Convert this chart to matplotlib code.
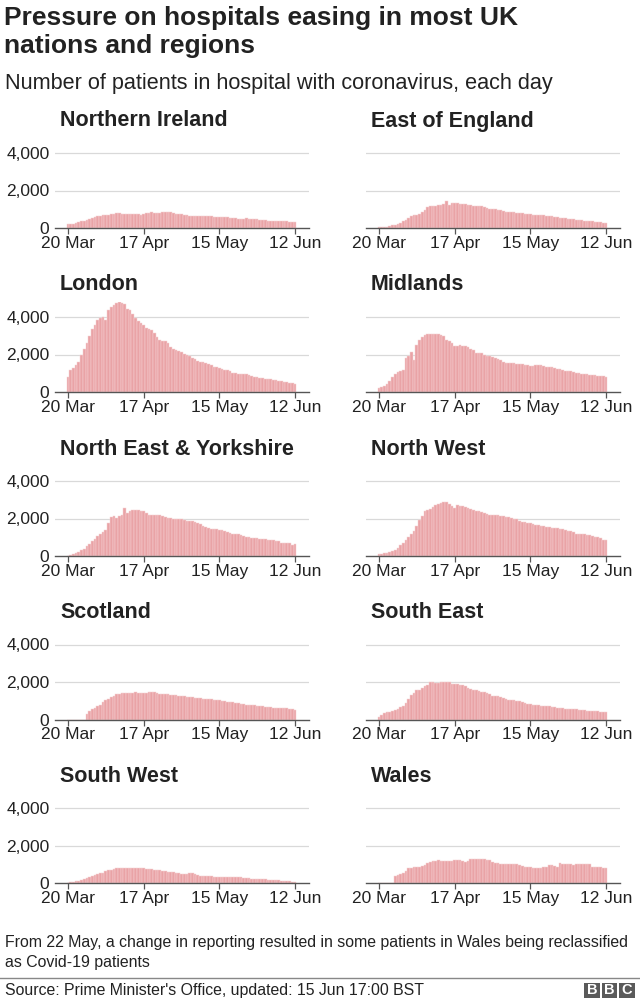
import matplotlib
matplotlib.use("Agg")
import matplotlib.pyplot as plt
import pandas as pd
import numpy as np
from matplotlib.patches import Rectangle

plt.rcParams['font.family'] = ['Liberation Sans', 'DejaVu Sans']

dates = pd.date_range("2020-03-20", "2020-06-12", freq="D")
tick_dates = pd.to_datetime(["2020-03-20", "2020-04-17", "2020-05-15", "2020-06-12"])
tick_labels = ["20 Mar", "17 Apr", "15 May", "12 Jun"]
y_ticks = [0, 2000, 4000]
y_labels = ["0", "2,000", "4,000"]

regions = ["Northern Ireland", "East of England", "London", "Midlands",
           "North East & Yorkshire", "North West", "Scotland", "South East",
           "South West", "Wales"]

northern_ireland = [200, 220, 240, 260, 300, 350, 400,
                    450, 500, 550, 580, 620, 650, 680,
                    700, 720, 740, 760, 780, 790, 760,
                    750, 750, 740, 740, 730, 740, 720,
                    760, 800, 820, 830, 820, 800, 810,
                    850, 870, 880, 860, 820, 750, 740,
                    740, 720, 680, 660, 640, 620, 620,
                    640, 660, 650, 630, 620, 600, 580,
                    580, 600, 590, 580, 560, 540, 520,
                    500, 480, 500, 520, 500, 480, 470,
                    460, 450, 440, 420, 400, 400, 390,
                    380, 380, 370, 360, 350, 340, 320, 300]

east_of_england = [30, 40, 60, 80, 110, 150, 180,
                   220, 280, 350, 430, 520, 650, 700,
                   720, 760, 850, 980, 1100, 1200, 1180,
                   1200, 1250, 1220, 1280, 1420, 1250, 1350,
                   1330, 1310, 1290, 1300, 1280, 1250, 1230,
                   1200, 1200, 1180, 1150, 1100, 1050, 1040,
                   1030, 1000, 980, 950, 900, 880, 860,
                   870, 850, 820, 800, 780, 760, 740,
                   740, 720, 700, 700, 680, 680, 660,
                   640, 620, 600, 580, 560, 540, 520,
                   500, 480, 460, 450, 440, 420, 400,
                   380, 370, 360, 340, 320, 300, 290, 270]

london = [800, 1190, 1300, 1450, 1600, 2000, 2300,
          2600, 3000, 3350, 3600, 3850, 3950, 4000,
          3850, 4350, 4550, 4650, 4750, 4780, 4750,
          4720, 4450, 4350, 4150, 3950, 3800, 3700,
          3550, 3400, 3350, 3300, 3150, 2950, 2780,
          2720, 2700, 2600, 2400, 2300, 2250, 2200,
          2150, 2050, 1950, 1900, 1800, 1750, 1650,
          1600, 1580, 1550, 1480, 1420, 1350, 1320,
          1280, 1250, 1200, 1180, 1100, 1020, 1000,
          980, 960, 960, 950, 920, 860, 820,
          780, 750, 730, 710, 690, 680, 650,
          620, 580, 570, 550, 530, 500, 470, 440]

midlands = [200, 280, 340, 450, 600, 820, 950,
            1050, 1120, 1200, 1800, 1900, 2150, 1700,
            2500, 2780, 2950, 3050, 3100, 3100, 3080,
            3100, 3100, 3050, 3000, 2800, 2700, 2600,
            2480, 2480, 2490, 2480, 2450, 2400, 2300,
            2250, 2070, 2100, 2080, 1950, 1930, 1900,
            1860, 1820, 1780, 1720, 1600, 1570, 1560,
            1550, 1540, 1520, 1500, 1470, 1440, 1420,
            1400, 1390, 1420, 1450, 1420, 1400, 1360,
            1340, 1320, 1290, 1250, 1220, 1180, 1140,
            1120, 1100, 1080, 1040, 1000, 980, 960,
            940, 920, 910, 890, 870, 850, 830, 820]

north_east_yorkshire = [20, 50, 100, 150, 230, 300, 400,
                        520, 650, 780, 900, 1050, 1200, 1300,
                        1380, 1750, 2100, 2150, 2050, 2150, 2200,
                        2550, 2300, 2400, 2440, 2450, 2440, 2420,
                        2380, 2300, 2200, 2210, 2200, 2180, 2200,
                        2150, 2080, 2050, 2020, 2000, 1990, 2000,
                        1950, 1900, 1880, 1870, 1850, 1800, 1780,
                        1700, 1620, 1560, 1500, 1450, 1460, 1430,
                        1400, 1380, 1350, 1300, 1240, 1200, 1180,
                        1170, 1120, 1060, 1020, 990, 980, 960,
                        940, 920, 900, 885, 870, 860, 850,
                        820, 780, 720, 700, 690, 670, 600, 620]

north_west = [90, 110, 150, 180, 210, 260, 330,
              450, 570, 720, 860, 1000, 1150, 1350,
              1600, 1900, 2150, 2380, 2480, 2520, 2600,
              2720, 2780, 2850, 2900, 2880, 2800, 2650,
              2550, 2700, 2680, 2660, 2620, 2580, 2520,
              2470, 2420, 2400, 2350, 2300, 2250, 2200,
              2180, 2190, 2180, 2150, 2120, 2090, 2060,
              2040, 2000, 1950, 1880, 1840, 1800, 1770,
              1740, 1700, 1680, 1650, 1620, 1580, 1550,
              1540, 1520, 1500, 1470, 1450, 1420, 1400,
              1360, 1320, 1260, 1200, 1180, 1160, 1150,
              1140, 1120, 1080, 1040, 1000, 960, 880, 840]

scotland = [0, 0, 0, 0, 0, 0, 0,
            320, 450, 550, 620, 700, 800, 950,
            1050, 1120, 1200, 1280, 1340, 1380, 1400,
            1410, 1420, 1430, 1440, 1450, 1440, 1430,
            1420, 1430, 1460, 1480, 1450, 1400, 1380,
            1360, 1350, 1340, 1330, 1320, 1300, 1280,
            1260, 1240, 1220, 1200, 1190, 1170, 1150,
            1130, 1120, 1100, 1090, 1080, 1060, 1050,
            1030, 1000, 970, 950, 930, 910, 890,
            870, 850, 820, 800, 790, 780, 760,
            740, 720, 700, 690, 670, 650, 640,
            620, 610, 600, 590, 590, 580, 560, 520]

south_east = [110, 250, 330, 380, 420, 460, 520,
              580, 650, 720, 900, 1100, 1300, 1400,
              1550, 1570, 1700, 1780, 1820, 2020, 1990,
              1950, 1940, 1990, 2020, 2010, 1980, 1900,
              1880, 1870, 1860, 1840, 1780, 1700, 1650,
              1600, 1550, 1500, 1470, 1450, 1400, 1350,
              1260, 1250, 1240, 1220, 1150, 1110, 1060,
              1040, 1020, 1000, 980, 950, 900, 840,
              820, 800, 780, 760, 740, 730, 720,
              710, 690, 650, 630, 600, 590, 570,
              550, 545, 540, 535, 530, 520, 500,
              470, 460, 450, 440, 430, 410, 390, 375]

south_west = [20, 40, 60, 90, 120, 160, 200,
              250, 300, 360, 420, 470, 520, 560,
              620, 680, 720, 760, 780, 790, 780,
              790, 790, 800, 800, 810, 810, 800,
              790, 770, 750, 740, 720, 700, 680,
              640, 620, 600, 580, 570, 560, 540,
              500, 480, 460, 520, 510, 490, 440,
              400, 390, 380, 370, 350, 345, 340,
              340, 345, 340, 330, 330, 320, 320,
              310, 300, 290, 270, 250, 230, 210,
              205, 200, 200, 195, 180, 170, 165,
              160, 150, 130, 120, 100, 90, 70, 55]

wales = [0, 0, 0, 0, 0, 0, 360,
         420, 500, 560, 620, 780, 820, 850,
         860, 880, 900, 980, 1050, 1120, 1170,
         1200, 1210, 1200, 1180, 1170, 1190, 1200,
         1210, 1220, 1210, 1180, 1130, 1150, 1280,
         1290, 1300, 1290, 1280, 1260, 1230, 1210,
         1100, 1080, 1060, 1020, 1010, 1010, 1020,
         1030, 1030, 1000, 960, 930, 880, 860,
         840, 820, 820, 810, 810, 830, 850,
         950, 970, 920, 860, 1060, 1020, 1000,
         1010, 990, 980, 1000, 1030, 1040, 1000,
         1040, 1030, 850, 840, 830, 830, 820, 810]

series = [northern_ireland, east_of_england, london, midlands,
          north_east_yorkshire, north_west, scotland, south_east,
          south_west, wales]

W, H = 640, 1000
fig = plt.figure(figsize=(6.4, 10), dpi=100)
fig.patch.set_facecolor("white")

def fx(x):
    return x / W

def fy(y):
    return 1 - y / H

BAR = "#e9a3a6"
TXT = "#222222"

fig.text(fx(4), fy(18), "Pressure on hospitals easing in most UK",
         ha="left", va="center", fontsize=19, fontweight="bold", color=TXT)
fig.text(fx(4), fy(46), "nations and regions",
         ha="left", va="center", fontsize=19, fontweight="bold", color=TXT)
fig.text(fx(5), fy(83), "Number of patients in hospital with coronavirus, each day",
         ha="left", va="center", fontsize=15.6, color=TXT)

zero_rows = [228, 392, 556, 719.5, 883]
px_per_1000 = 18.75
ymax = 4800
ax_h = ymax / 1000 * px_per_1000
col_left = [55, 366]
ax_w = 254

x0 = dates[0] - pd.Timedelta(days=4.8)
x1 = dates[-1] + pd.Timedelta(days=5.2)

for i, (name, vals) in enumerate(zip(regions, series)):
    r, c = divmod(i, 2)
    ybot = zero_rows[r]
    ax = fig.add_axes([fx(col_left[c]), fy(ybot), fx(ax_w), ax_h / H])
    ax.bar(dates, vals, width=1.0, color=BAR, edgecolor="#f6d3d4", linewidth=0.35, zorder=2)
    ax.set_xlim(x0, x1)
    ax.set_ylim(0, ymax)
    for s in ["top", "right", "left"]:
        ax.spines[s].set_visible(False)
    ax.spines["bottom"].set_color("#555555")
    ax.spines["bottom"].set_linewidth(1.0)
    ax.spines["bottom"].set_zorder(3)
    ax.set_yticks(y_ticks)
    for yv in y_ticks[1:]:
        ax.axhline(yv, color="#d9d9d9", linewidth=0.9, zorder=1)
    if c == 0:
        ax.set_yticklabels(y_labels, fontsize=12.5, color=TXT)
    else:
        ax.set_yticklabels([])
    ax.tick_params(axis="y", length=0, pad=4)
    ax.set_xticks(tick_dates)
    ax.set_xticklabels(tick_labels, fontsize=12.5, color=TXT)
    ax.tick_params(axis="x", length=4, width=0.9, color="#555555", pad=1.5)
    ax.patch.set_alpha(0)
    fig.text(fx(col_left[c] + 5), fy(ybot - 107), name, ha="left", va="center",
             fontsize=15.5, fontweight="bold", color=TXT)

fig.text(fx(5), fy(943), "From 22 May, a change in reporting resulted in some patients in Wales being reclassified",
         ha="left", va="center", fontsize=11.4, color=TXT)
fig.text(fx(5), fy(962), "as Covid-19 patients", ha="left", va="center", fontsize=11.4, color=TXT)

fig.add_artist(plt.Line2D([0, 1], [fy(978), fy(978)], color="#888888", linewidth=1.0,
                          transform=fig.transFigure))
fig.text(fx(5), fy(990), "Source: Prime Minister's Office, updated: 15 Jun 17:00 BST",
         ha="left", va="center", fontsize=11.4, color=TXT)

for k, letter in enumerate("BBC"):
    lx = 584 + k * 17.5
    fig.add_artist(Rectangle((fx(lx), fy(998)), fx(15.5), 15.5 / H, transform=fig.transFigure,
                             facecolor="#5a5a5a", edgecolor="none"))
    fig.text(fx(lx + 7.75), fy(990.3), letter, ha="center", va="center", fontsize=10.5,
             fontweight="bold", color="white")

fig.savefig("out.png", dpi=100, facecolor="white")
